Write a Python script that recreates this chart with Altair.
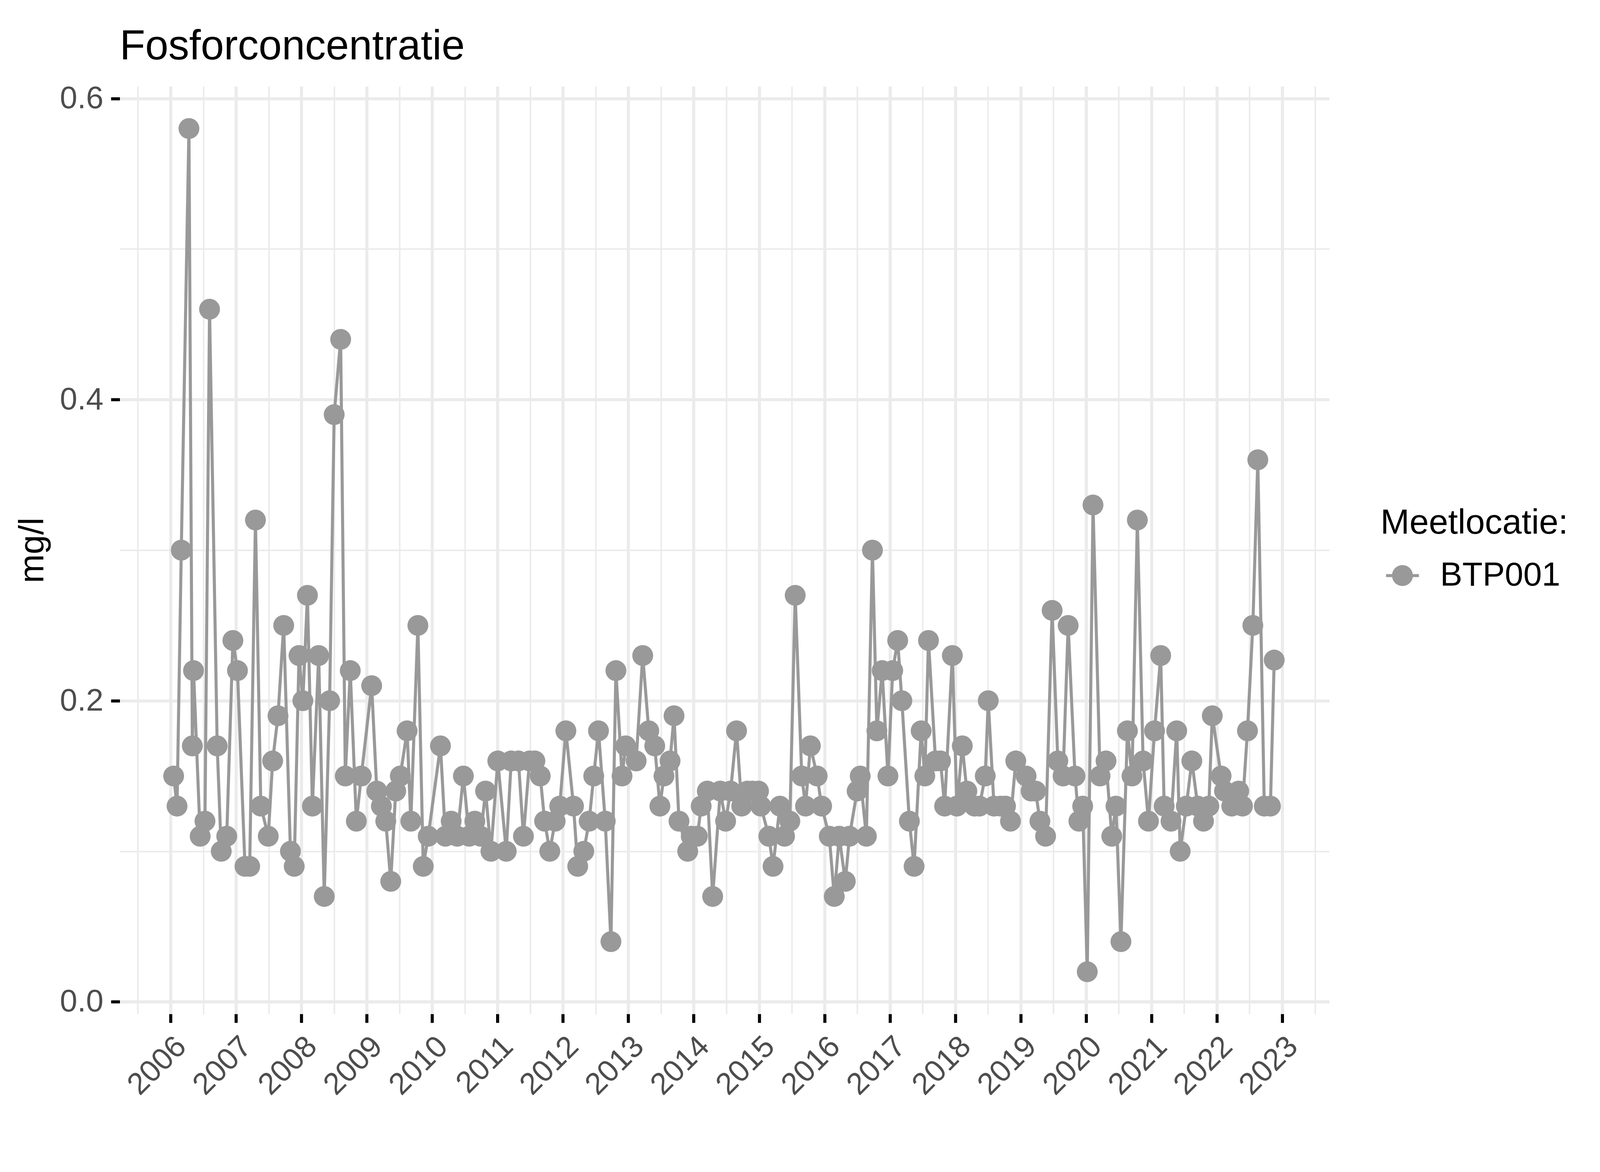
import altair as alt
import pandas as pd

# sample moments (decimal years) and phosphorus concentration (mg/l), station BTP001
jaar = [
    2006.047, 2006.099, 2006.164, 2006.281, 2006.333, 2006.351, 2006.453, 2006.526, 2006.596, 2006.713,
    2006.775, 2006.859, 2006.953, 2007.023, 2007.138, 2007.210, 2007.298, 2007.380, 2007.494, 2007.561,
    2007.643, 2007.730, 2007.833, 2007.891, 2007.964, 2008.023, 2008.093, 2008.169, 2008.265, 2008.350,
    2008.432, 2008.502, 2008.601, 2008.672, 2008.748, 2008.841, 2008.917, 2009.075, 2009.154, 2009.224,
    2009.291, 2009.367, 2009.443, 2009.513, 2009.617, 2009.674, 2009.782, 2009.864, 2009.940, 2010.127,
    2010.203, 2010.291, 2010.384, 2010.478, 2010.566, 2010.653, 2010.741, 2010.817, 2010.899, 2011.004,
    2011.133, 2011.209, 2011.320, 2011.396, 2011.489, 2011.571, 2011.653, 2011.720, 2011.799, 2011.881,
    2011.951, 2012.045, 2012.162, 2012.226, 2012.319, 2012.401, 2012.471, 2012.544, 2012.647, 2012.734,
    2012.810, 2012.904, 2012.960, 2013.120, 2013.220, 2013.313, 2013.404, 2013.483, 2013.545, 2013.638,
    2013.699, 2013.775, 2013.908, 2013.962, 2014.056, 2014.114, 2014.208, 2014.290, 2014.406, 2014.488,
    2014.564, 2014.655, 2014.734, 2014.822, 2014.898, 2014.991, 2015.026, 2015.149, 2015.213, 2015.318,
    2015.389, 2015.470, 2015.552, 2015.652, 2015.710, 2015.784, 2015.888, 2015.956, 2016.073, 2016.149,
    2016.225, 2016.318, 2016.382, 2016.499, 2016.546, 2016.640, 2016.733, 2016.801, 2016.882, 2016.970,
    2017.043, 2017.119, 2017.183, 2017.298, 2017.370, 2017.478, 2017.534, 2017.590, 2017.698, 2017.774,
    2017.837, 2017.955, 2018.025, 2018.107, 2018.177, 2018.294, 2018.370, 2018.458, 2018.504, 2018.592,
    2018.692, 2018.768, 2018.844, 2018.925, 2019.083, 2019.159, 2019.229, 2019.294, 2019.381, 2019.481,
    2019.568, 2019.648, 2019.726, 2019.831, 2019.890, 2019.948, 2020.018, 2020.106, 2020.214, 2020.305,
    2020.393, 2020.457, 2020.533, 2020.632, 2020.702, 2020.784, 2020.872, 2020.954, 2021.047, 2021.141,
    2021.194, 2021.299, 2021.386, 2021.439, 2021.533, 2021.617, 2021.708, 2021.796, 2021.877, 2021.930,
    2022.065, 2022.117, 2022.228, 2022.334, 2022.392, 2022.468, 2022.550, 2022.626, 2022.725, 2022.819,
    2022.877,
]

fosfor = [
    0.15, 0.13, 0.30, 0.58, 0.17, 0.22, 0.11, 0.12, 0.46, 0.17,
    0.10, 0.11, 0.24, 0.22, 0.09, 0.09, 0.32, 0.13, 0.11, 0.16,
    0.19, 0.25, 0.10, 0.09, 0.23, 0.20, 0.27, 0.13, 0.23, 0.07,
    0.20, 0.39, 0.44, 0.15, 0.22, 0.12, 0.15, 0.21, 0.14, 0.13,
    0.12, 0.08, 0.14, 0.15, 0.18, 0.12, 0.25, 0.09, 0.11, 0.17,
    0.11, 0.12, 0.11, 0.15, 0.11, 0.12, 0.11, 0.14, 0.10, 0.16,
    0.10, 0.16, 0.16, 0.11, 0.16, 0.16, 0.15, 0.12, 0.10, 0.12,
    0.13, 0.18, 0.13, 0.09, 0.10, 0.12, 0.15, 0.18, 0.12, 0.04,
    0.22, 0.15, 0.17, 0.16, 0.23, 0.18, 0.17, 0.13, 0.15, 0.16,
    0.19, 0.12, 0.10, 0.11, 0.11, 0.13, 0.14, 0.07, 0.14, 0.12,
    0.14, 0.18, 0.13, 0.14, 0.14, 0.14, 0.13, 0.11, 0.09, 0.13,
    0.11, 0.12, 0.27, 0.15, 0.13, 0.17, 0.15, 0.13, 0.11, 0.07,
    0.11, 0.08, 0.11, 0.14, 0.15, 0.11, 0.30, 0.18, 0.22, 0.15,
    0.22, 0.24, 0.20, 0.12, 0.09, 0.18, 0.15, 0.24, 0.16, 0.16,
    0.13, 0.23, 0.13, 0.17, 0.14, 0.13, 0.13, 0.15, 0.20, 0.13,
    0.13, 0.13, 0.12, 0.16, 0.15, 0.14, 0.14, 0.12, 0.11, 0.26,
    0.16, 0.15, 0.25, 0.15, 0.12, 0.13, 0.02, 0.33, 0.15, 0.16,
    0.11, 0.13, 0.04, 0.18, 0.15, 0.32, 0.16, 0.12, 0.18, 0.23,
    0.13, 0.12, 0.18, 0.10, 0.13, 0.16, 0.13, 0.12, 0.13, 0.19,
    0.15, 0.14, 0.13, 0.14, 0.13, 0.18, 0.25, 0.36, 0.13, 0.13,
    0.227,
]

locatie = ["BTP001"] * len(jaar)

jaar_ticks = list(range(2006, 2024))
jaar_minor = [j + 0.5 for j in range(2005, 2024)]
y_ticks = [0.0, 0.2, 0.4, 0.6]
y_minor = [0.1, 0.3, 0.5]

df = pd.DataFrame({"jaar": jaar, "waarde": fosfor, "Meetlocatie": locatie})

FONT = "Liberation Sans"
GREY = "#999999"
GRID = "#ebebeb"

xscale = alt.Scale(domain=[2005.2225, 2023.719], nice=False, zero=False)
yscale = alt.Scale(domain=[-0.008, 0.608], nice=False, zero=False)

x_major = alt.Axis(
    values=jaar_ticks, format="d", title=None, grid=True, gridColor=GRID, gridWidth=8,
    domain=False, ticks=True, tickColor="#000000", tickSize=23, tickWidth=8,
    labelAngle=315, labelAlign="right", labelBaseline="top", labelPadding=22,
    labelFontSize=80, labelColor="#4d4d4d", labelFont=FONT, labelOverlap=False,
)
y_major = alt.Axis(
    values=y_ticks, format=".1f", title="mg/l", grid=True, gridColor=GRID, gridWidth=8,
    domain=False, ticks=True, tickColor="#000000", tickSize=23, tickWidth=8,
    labelPadding=20, labelFontSize=82, labelColor="#4d4d4d", labelFont=FONT,
    titleFontSize=91, titleFont=FONT, titleFontWeight="normal", titleColor="#000000",
    titlePadding=24,
)
x_minor = alt.Axis(
    values=jaar_minor, orient="top", title=None, labels=False, ticks=False, domain=False,
    grid=True, gridColor=GRID, gridWidth=4,
)
y_minor_ax = alt.Axis(
    values=y_minor, orient="right", title=None, labels=False, ticks=False, domain=False,
    grid=True, gridColor=GRID, gridWidth=4,
)

legend_symbol = (
    "M-1,-0.093H-0.62V0.093H-1Z "
    "M0.62,-0.093H1V0.093H0.62Z "
    "M0.635,0A0.635,0.635,0,1,1,-0.635,0A0.635,0.635,0,1,1,0.635,0Z"
)

line = alt.Chart(df).mark_line(color=GREY, strokeWidth=8).encode(
    x=alt.X("jaar:Q", scale=xscale, axis=x_minor),
    y=alt.Y("waarde:Q", scale=yscale, axis=y_minor_ax),
)

points = alt.Chart(df).mark_circle(size=2980, opacity=1).encode(
    x=alt.X("jaar:Q", scale=xscale, axis=x_major),
    y=alt.Y("waarde:Q", scale=yscale, axis=y_major),
    color=alt.Color(
        "Meetlocatie:N",
        scale=alt.Scale(domain=["BTP001"], range=[GREY]),
        legend=alt.Legend(
            title="Meetlocatie:", orient="none", legendX=3298, legendY=1098,
            titleFontSize=91, titleFont=FONT, titleFontWeight="normal", titleColor="#000000",
            titlePadding=47, labelFontSize=87, labelFont=FONT, labelColor="#000000",
            titleLimit=2000, labelLimit=2000,
            symbolType=legend_symbol, symbolSize=7396, symbolFillColor=GREY,
            symbolStrokeWidth=0, symbolOpacity=1, symbolOffset=14, labelOffset=55,
            padding=0,
        ),
    ),
)

chart = (
    alt.layer(line, points)
    .resolve_axis(x="independent", y="independent")
    .properties(
        width=3164,
        height=2426,
        title=alt.TitleParams(
            "Fosforconcentratie", anchor="start", frame="group", fontSize=109,
            font=FONT, fontWeight="normal", color="#000000", baseline="alphabetic",
            offset=57, dy=105,
        ),
        autosize=alt.AutoSizeParams(type="none"),
        padding={"left": 305, "top": 186, "right": 700, "bottom": 300},
        background="white",
    )
    .configure(font=FONT)
    .configure_view(stroke=None)
)

chart.save("out.html", embed_options={"renderer": "svg", "actions": False})
